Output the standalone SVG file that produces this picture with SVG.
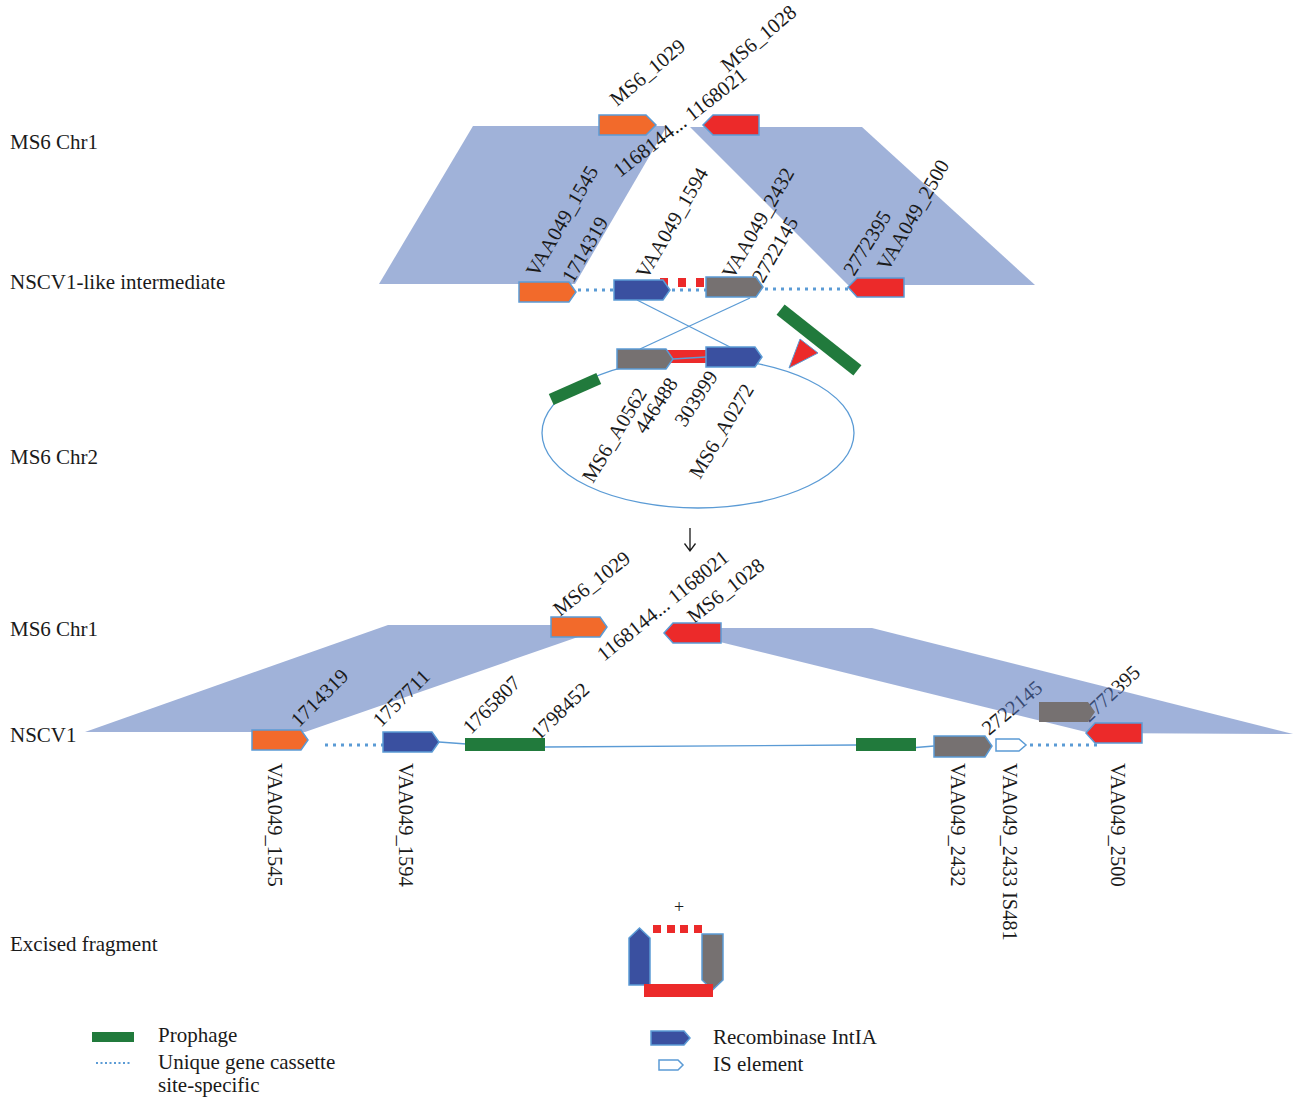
<svg xmlns="http://www.w3.org/2000/svg" width="1295" height="1098" viewBox="0 0 1295 1098">
<style>
text{font-family:"Liberation Serif","Times New Roman",serif;fill:#1a1a1a}
.lbl{font-size:21px}
.r{font-size:20.5px}
.band{fill:#A0B2D9}
.g{stroke:#5B9BD5;stroke-width:1.5}
.or{fill:#F26A2B}
.rd{fill:#EC2A2A}
.bl{fill:#3A50A0}
.gy{fill:#767171}
.gr{fill:#217A3C}
.ln{stroke:#5B9BD5;stroke-width:1.3;fill:none}
.dot{stroke:#5B9BD5;stroke-width:3;fill:none;stroke-dasharray:3 5}
</style>

<g id="labels-left">
<text class="lbl" x="10" y="149">MS6 Chr1</text>
<text class="lbl" x="10" y="289">NSCV1-like intermediate</text>
<text class="lbl" x="10" y="464">MS6 Chr2</text>
<text class="lbl" x="10" y="636">MS6 Chr1</text>
<text class="lbl" x="10" y="742">NSCV1</text>
<text class="lbl" x="10" y="951">Excised fragment</text>
</g>

<g id="bands-top">
<polygon class="band" points="473,126 667,126 575,284 379,284"/>
<polygon class="band" points="690,127 862,127 1035,285 848,285"/>
<polygon class="band" points="388,625 578,625 578,637 305,732 85,732"/>
</g>

<g id="labels-rotated">
<text class="r" transform="translate(617,107) rotate(-40)">MS6_1029</text>
<text class="r" transform="translate(620,178) rotate(-38)">1168144... 1168021</text>
<text class="r" transform="translate(728,73) rotate(-40)">MS6_1028</text>

<text class="r" transform="translate(537,278) rotate(-60)">VAA049_1545</text>
<text class="r" transform="translate(573,284) rotate(-60)">1714319</text>
<text class="r" transform="translate(647,280) rotate(-60)">VAA049_1594</text>
<text class="r" transform="translate(733,280) rotate(-60)">VAA049_2432</text>
<text class="r" transform="translate(763,284) rotate(-60)">2722145</text>
<text class="r" transform="translate(854,277) rotate(-58)">2772395</text>
<text class="r" transform="translate(888,272) rotate(-60)">VAA049_2500</text>

<text class="r" transform="translate(593,484) rotate(-59)">MS6_A0562</text>
<text class="r" transform="translate(645,435) rotate(-57)">446488</text>
<text class="r" transform="translate(685,428) rotate(-57)">303999</text>
<text class="r" transform="translate(700,480) rotate(-59)">MS6_A0272</text>

<text class="r" transform="translate(560,617) rotate(-38)">MS6_1029</text>
<text class="r" transform="translate(604,662) rotate(-39)">1168144... 1168021</text>
<text class="r" transform="translate(694,624) rotate(-38)">MS6_1028</text>

<text class="r" transform="translate(299,728) rotate(-45)">1714319</text>
<text class="r" transform="translate(381,728) rotate(-45)">1757711</text>
<text class="r" transform="translate(471,735) rotate(-45)">1765807</text>
<text class="r" transform="translate(539,741) rotate(-44)">1798452</text>
<text class="r" transform="translate(989,736) rotate(-40)">2722145</text>
<text class="r" transform="translate(1089,723) rotate(-43)">2772395</text>

<text class="r" transform="translate(268,763) rotate(90)">VAA049_1545</text>
<text class="r" transform="translate(399,763) rotate(90)">VAA049_1594</text>
<text class="r" transform="translate(951,763) rotate(90)">VAA049_2432</text>
<text class="r" transform="translate(1003,763) rotate(90)">VAA049_2433 IS481</text>
<text class="r" transform="translate(1111,763) rotate(90)">VAA049_2500</text>
</g>

<g id="band-bottom-right">
<polygon fill="#5273BB" fill-opacity="0.55" points="720,628 872,628 1293,734 1090,733 720,642"/>
</g>

<g id="connectors">
<line class="dot" x1="578" y1="290" x2="614" y2="290"/>
<line x1="660" y1="282.5" x2="706" y2="282.5" stroke="#EC2A2A" stroke-width="9" stroke-dasharray="8 10"/>
<line class="dot" x1="672" y1="290" x2="706" y2="290"/>
<line class="dot" x1="765" y1="289" x2="857" y2="289"/>
<line class="ln" x1="637" y1="300" x2="730" y2="347"/>
<line class="ln" x1="750" y1="298" x2="640" y2="349"/>
<ellipse class="ln" cx="698" cy="433" rx="156" ry="75"/>
<rect x="663" y="350" width="43" height="13" class="rd"/>
<line class="ln" x1="673" y1="359" x2="706" y2="357"/>
<path d="M690,528 V550 M684.5,543.5 L690,551 L695.5,543.5" stroke="#1a1a1a" stroke-width="1.3" fill="none"/>
<line class="dot" x1="325" y1="745" x2="383" y2="745"/>
<line class="ln" x1="439" y1="742" x2="480" y2="745"/>
<line class="ln" x1="545" y1="747" x2="856" y2="745"/>
<line class="ln" x1="910" y1="748" x2="934" y2="746"/>
<line class="dot" x1="1030" y1="745" x2="1097" y2="745"/>
</g>

<g id="genes-chr1-top">
<path class="or g" d="M599,115 H646 L656,125 L646,135 H599 Z"/>
<path class="rd g" d="M703,125 L713,115 H759 V135 H713 Z"/>
</g>

<g id="genes-intermediate">
<path class="or g" d="M519,282 H569 L576,292 L569,302 H519 Z"/>
<path class="bl g" d="M614,280 H663 L670,290 L663,300 H614 Z"/>
<path class="gy g" d="M706,277 H756 L763,287 L756,297 H706 Z"/>
<path class="rd g" d="M848,287 L857,278 H904 V297 H857 Z"/>
</g>

<g id="genes-chr2">
<path class="gy g" d="M617,349 H666 L673,359 L666,369 H617 Z"/>
<path class="bl g" d="M706,347 H755 L762,357 L755,367 H706 Z"/>
<rect class="gr" x="-26" y="-6" width="52" height="12" transform="translate(575,389) rotate(-24)"/>
<rect class="gr" x="-49" y="-6.5" width="98" height="13" transform="translate(819,340) rotate(38.4)"/>
<polygon class="rd" points="800,339 818,353 789,368" stroke="#5B9BD5" stroke-width="1"/>
</g>

<g id="genes-chr1-bottom">
<path class="or g" d="M551,617 H600 L607,627 L600,637 H551 Z"/>
<path class="rd g" d="M664,633 L673,623 H721 V643 H673 Z"/>
</g>

<g id="genes-nscv1">
<path class="or g" d="M252,730 H301 L308,740 L301,750 H252 Z"/>
<path class="bl g" d="M383,732 H432 L439,742 L432,752 H383 Z"/>
<rect class="gr" x="465" y="738" width="80" height="13"/>
<rect class="gr" x="856" y="738" width="60" height="13"/>
<path class="gy g" d="M934,736 H985 L992,746 L985,757 H934 Z"/>
<path class="g" fill="#fff" d="M996,739 H1019 L1026,745 L1019,751 H996 Z"/>
<path class="gy" d="M1039,702 H1088 L1095,712 L1088,722 H1039 Z"/>
<path class="rd g" d="M1086,733 L1095,723 H1142 V743 H1095 Z"/>
</g>

<g id="excised-fragment">
<text x="679" y="913" font-size="18" text-anchor="middle">+</text>
<rect class="rd" x="653" y="925" width="8" height="8"/>
<rect class="rd" x="667" y="925" width="8" height="8"/>
<rect class="rd" x="680" y="925" width="8" height="8"/>
<rect class="rd" x="694" y="925" width="8" height="8"/>
<path class="bl g" d="M629,938 L639.5,928 L650,938 V985 H629 Z"/>
<path class="gy g" d="M702,934 H723 V980 L712.5,990 L702,980 Z"/>
<rect class="rd" x="644" y="984" width="69" height="13"/>
</g>

<g id="legend">
<rect class="gr" x="92" y="1032" width="42" height="10"/>
<text class="lbl" x="158" y="1042">Prophage</text>
<line x1="96" y1="1063" x2="131" y2="1063" stroke="#5B9BD5" stroke-width="2" stroke-dasharray="2 2.5"/>
<text class="lbl" x="158" y="1069">Unique gene cassette</text>
<text class="lbl" x="158" y="1092">site-specific</text>
<path class="bl g" d="M651,1031 H684 L690,1038 L684,1045 H651 Z"/>
<text class="lbl" x="713" y="1044">Recombinase IntIA</text>
<path class="g" fill="#fff" d="M659,1060 H678 L683,1065 L678,1070 H659 Z"/>
<text class="lbl" x="713" y="1071">IS element</text>
</g>
</svg>
